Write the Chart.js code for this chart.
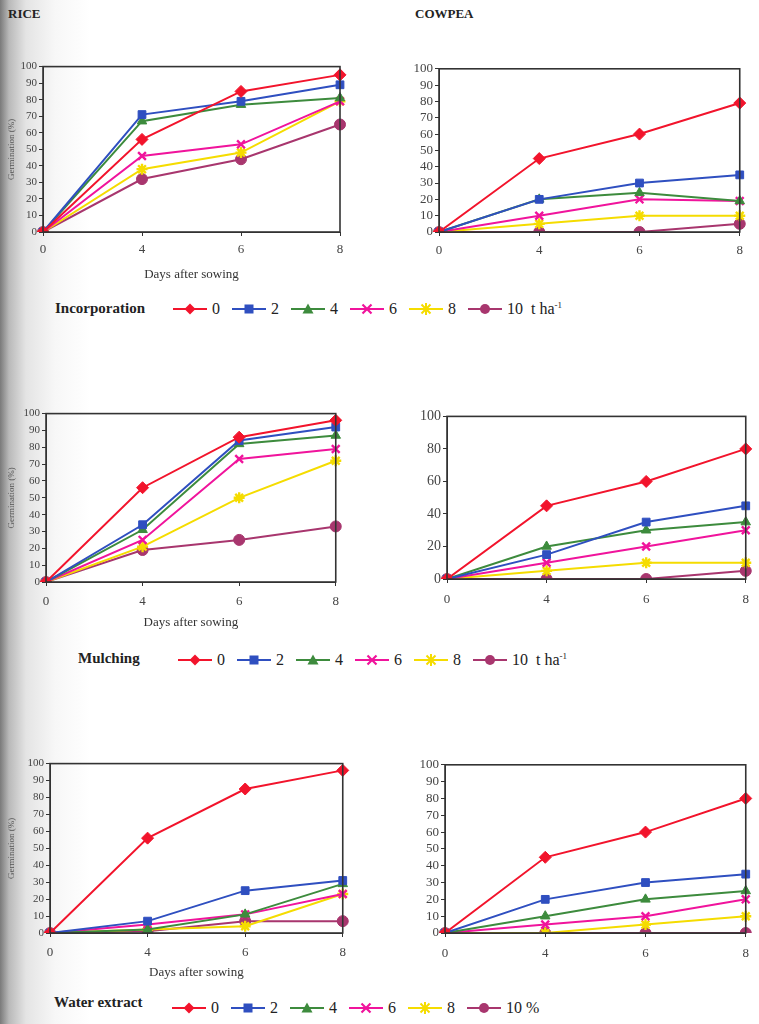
<!DOCTYPE html>
<html>
<head>
<meta charset="utf-8">
<script src="https://cdn.jsdelivr.net/npm/chart.js@4.4.0/dist/chart.umd.min.js"></script>
<style>
body{margin:0;width:759px;height:1024px;position:relative;overflow:hidden;
 background:linear-gradient(to right,#7a7a7a 0,#b9b9b9 9px,#e4e4e4 26px,#f7f7f7 55px,#fff 90px);
 font-family:"Liberation Serif",serif;color:#222;}
.box{position:absolute}
.ttl{position:absolute;font-weight:bold;font-size:13px}
.leg{position:absolute;display:flex;align-items:center;white-space:nowrap;font-size:16px}
.legname{position:absolute;font-weight:bold;font-size:15px}
.item{display:flex;align-items:center;width:59px}
.item svg{margin-right:5px}
</style>
</head>
<body>
<div class="ttl" style="left:8px;top:6px">RICE</div>
<div class="ttl" style="left:415px;top:6px">COWPEA</div>

<div class="box" style="left:0;top:58px;width:350px;height:227px"><canvas id="c1"></canvas></div>
<div class="box" style="left:390px;top:59px;width:360px;height:203px"><canvas id="c2"></canvas></div>
<div class="box" style="left:0;top:405px;width:347px;height:228px"><canvas id="c3"></canvas></div>
<div class="box" style="left:390px;top:406px;width:368px;height:203px"><canvas id="c4"></canvas></div>
<div class="box" style="left:0;top:755px;width:354px;height:228px"><canvas id="c5"></canvas></div>
<div class="box" style="left:390px;top:755px;width:368px;height:208px"><canvas id="c6"></canvas></div>

<div class="legname" style="left:55px;top:300px">Incorporation</div>
<div class="leg" id="l1" style="left:173px;top:300px"></div>
<div class="legname" style="left:78px;top:650px">Mulching</div>
<div class="leg" id="l2" style="left:178px;top:651px"></div>
<div class="legname" style="left:54px;top:994px">Water extract</div>
<div class="leg" id="l3" style="left:172px;top:999px"></div>

<script>
// days after sowing and application levels
const days = ['0', '4', '6', '8'];
const levels = ['0', '2', '4', '6', '8', '10'];

// germination (%) per level
const riceIncorporation = [
  [0, 56, 85, 95],
  [0, 71, 79, 89],
  [0, 67, 77, 81],
  [0, 46, 53, 79],
  [0, 38, 48, 79],
  [0, 32, 44, 65]
];
const cowpeaIncorporation = [
  [0, 45, 60, 79],
  [0, 20, 30, 35],
  [0, 20, 24, 19],
  [0, 10, 20, 19],
  [0, 5, 10, 10],
  [0, 0, 0, 5]
];
const riceMulching = [
  [0, 56, 86, 96],
  [0, 34, 84, 92],
  [0, 31, 82, 87],
  [0, 25, 73, 79],
  [0, 21, 50, 72],
  [0, 19, 25, 33]
];
const cowpeaMulching = [
  [0, 45, 60, 80],
  [0, 15, 35, 45],
  [0, 20, 30, 35],
  [0, 10, 20, 30],
  [0, 5, 10, 10],
  [0, 0, 0, 5]
];
const riceWater = [
  [0, 56, 85, 96],
  [0, 7, 25, 31],
  [0, 2, 11, 29],
  [0, 5, 11, 23],
  [0, 2, 4, 23],
  [0, 1, 7, 7]
];
const cowpeaWater = [
  [0, 45, 60, 80],
  [0, 20, 30, 35],
  [0, 10, 20, 25],
  [0, 5, 10, 20],
  [0, 0, 5, 10],
  [0, 0, 0, 0]
];

const colors = ['#f2142c', '#2f4fc0', '#3d8b3d', '#f0149c', '#f5dc00', '#a8366e'];
const styles = ['rectRot', 'rect', 'triangle', 'crossRot', 'star', 'circle'];

// box round the plot area
const frame = {
  id: 'frame',
  afterDraw(chart) {
    const a = chart.chartArea, ctx = chart.ctx;
    ctx.save();
    ctx.strokeStyle = '#333';
    ctx.lineWidth = 1.6;
    ctx.strokeRect(a.left, a.top, a.right - a.left, a.bottom - a.top);
    ctx.restore();
  }
};

function makePanel(id, values, o) {
  const sets = values.map((v, i) => ({
    label: levels[i],
    data: v,
    borderColor: colors[i],
    backgroundColor: colors[i],
    pointStyle: styles[i],
    pointRadius: styles[i] == 'rectRot' ? 6 : 5.5,
    pointBorderWidth: (i == 3 || i == 4) ? 2.4 : 1,
    borderWidth: 2,
    tension: 0
  }));
  new Chart(document.getElementById(id), {
    type: 'line',
    data: { labels: days, datasets: sets },
    options: {
      responsive: true,
      maintainAspectRatio: false,
      animation: false,
      layout: { padding: { top: 8, right: 10, left: 0, bottom: 0 } },
      plugins: { legend: { display: false }, tooltip: { enabled: false } },
      scales: {
        x: {
          offset: false,
          grid: { drawOnChartArea: false, tickLength: 4, color: '#333' },
          border: { color: '#333' },
          ticks: { padding: o.xPad, color: '#444', font: { family: 'Liberation Serif', size: 13 } },
          title: { display: o.xTitle, text: 'Days after sowing', color: '#333',
                   font: { family: 'Liberation Serif', size: 13 }, padding: { top: 0, bottom: 3 } },
          afterFit: s => { s.height = o.xH; }
        },
        y: {
          min: 0, max: 100,
          grid: { drawOnChartArea: false, tickLength: 4, color: '#333' },
          border: { color: '#333' },
          ticks: { stepSize: o.step, autoSkip: false, padding: 2, color: '#444',
                   font: { family: 'Liberation Serif', size: o.fs } },
          title: { display: o.yTitle, text: 'Germination (%)', color: '#555',
                   font: { family: 'Liberation Serif', size: 9 }, padding: { top: 6, bottom: 0 } },
          afterFit: s => { s.width = o.yW; }
        }
      }
    },
    plugins: [frame]
  });
}

makePanel('c1', riceIncorporation, { yW: 43, xH: 53, xPad: 6, fs: 11, step: 10, xTitle: true, yTitle: true });
makePanel('c2', cowpeaIncorporation, { yW: 49, xH: 30, xPad: 7, fs: 13, step: 10, xTitle: false, yTitle: false });
makePanel('c3', riceMulching, { yW: 46, xH: 51, xPad: 8, fs: 11, step: 10, xTitle: true, yTitle: true });
makePanel('c4', cowpeaMulching, { yW: 57, xH: 30, xPad: 9, fs: 14, step: 20, xTitle: false, yTitle: false });
makePanel('c5', riceWater, { yW: 50, xH: 50, xPad: 8, fs: 11, step: 10, xTitle: true, yTitle: true });
makePanel('c6', cowpeaWater, { yW: 55, xH: 30, xPad: 9, fs: 13, step: 10, xTitle: false, yTitle: false });

// legend icons
function icon(i) {
  const c = colors[i];
  let m = '';
  if (i == 0) m = `<polygon points="17,1.5 22.5,7 17,12.5 11.5,7" fill="${c}"/>`;
  if (i == 1) m = `<rect x="12.5" y="2.5" width="9" height="9" fill="${c}"/>`;
  if (i == 2) m = `<polygon points="17,1.5 22.5,11.5 11.5,11.5" fill="${c}"/>`;
  if (i == 3) m = `<path d="M12.5 2.5L21.5 11.5M21.5 2.5L12.5 11.5" stroke="${c}" stroke-width="2.2"/>`;
  if (i == 4) m = `<path d="M12.5 2.5L21.5 11.5M21.5 2.5L12.5 11.5M17 1V13M11 7H23" stroke="${c}" stroke-width="2"/>`;
  if (i == 5) m = `<circle cx="17" cy="7" r="5" fill="${c}"/>`;
  return `<svg width="34" height="14"><line x1="0" y1="7" x2="34" y2="7" stroke="${c}" stroke-width="2"/>${m}</svg>`;
}
function legend(id, unit) {
  const el = document.getElementById(id);
  levels.forEach((lv, i) => {
    const last = i == levels.length - 1;
    el.insertAdjacentHTML('beforeend',
      `<div class="item"${last ? ' style="width:auto"' : ''}>${icon(i)}<span>${lv}${last ? unit : ''}</span></div>`);
  });
}
legend('l1', '&nbsp; t ha<sup style="font-size:9px">-1</sup>');
legend('l2', '&nbsp; t ha<sup style="font-size:9px">-1</sup>');
legend('l3', ' %');
</script>
</body>
</html>
